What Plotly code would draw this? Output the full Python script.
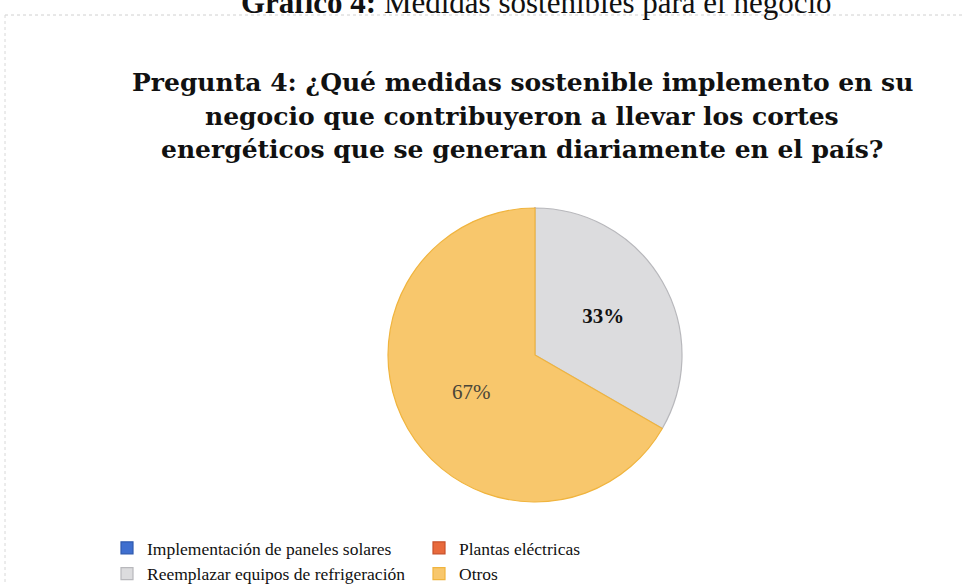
import plotly.graph_objects as go

categories = ["Implementación de paneles solares", "Plantas eléctricas",
              "Reemplazar equipos de refrigeración", "Otros"]
values = [0, 0, 33.33, 66.67]
colors = ["#3F6FCF", "#E86A3C", "#DCDCDE", "#F8C76C"]
line_colors = ["#2F5AAF", "#C8502A", "#B8B8BC", "#F0B43E"]
label_templates = ["", "", "<b>%{percent:.0%}</b>", "%{percent:.0%}"]
label_colors = ["#000000", "#000000", "#111111", "#4A4538"]

title_lines = ["Pregunta 4: ¿Qué medidas sostenible implemento en su",
               "negocio que contribuyeron a llevar los cortes",
               "energéticos que se generan diariamente en el país?"]
top_caption = "<b>Gráfico 4:</b> Medidas sostenibles para el negocio"

W, H = 970, 584
ML, MR = 100, 170
PW = W - ML - MR

def px_x(x):
    return (x - ML) / PW

def px_y(y):
    return 1 - y / H

fig = go.Figure(go.Pie(
    labels=categories,
    values=values,
    sort=False,
    direction="clockwise",
    rotation=0,
    marker=dict(colors=colors, line=dict(color=line_colors, width=1.2)),
    texttemplate=label_templates,
    textposition="inside",
    insidetextorientation="horizontal",
    textfont=dict(family="Liberation Serif", size=21, color=label_colors),
    domain=dict(x=[px_x(388), px_x(682)], y=[px_y(502), px_y(208)]),
    hoverinfo="label+percent",
))

annotations = []
for i, line in enumerate(title_lines):
    annotations.append(dict(
        text=f"<b>{line}</b>", x=px_x(522), y=px_y(83 + 33 * i),
        xref="paper", yref="paper", showarrow=False,
        xanchor="center", yanchor="middle",
        font=dict(family="DejaVu Serif", size=25, color="#111111")))
annotations.append(dict(
    text=top_caption, x=px_x(536), y=px_y(3),
    xref="paper", yref="paper", showarrow=False,
    xanchor="center", yanchor="middle",
    font=dict(family="Liberation Serif", size=31, color="#111111")))

shapes = [
    dict(type="line", xref="paper", yref="paper",
         x0=px_x(5), x1=px_x(965), y0=px_y(15), y1=px_y(15),
         line=dict(color="#D0D0D0", width=1, dash="dot")),
    dict(type="line", xref="paper", yref="paper",
         x0=px_x(5), x1=px_x(5), y0=px_y(15), y1=px_y(584),
         line=dict(color="#D8D8D8", width=1, dash="dot")),
]

fig.update_layout(
    width=W, height=H,
    margin=dict(l=ML, r=MR, t=0, b=0, autoexpand=False),
    paper_bgcolor="white",
    plot_bgcolor="white",
    showlegend=True,
    legend=dict(
        orientation="h", x=px_x(107), y=px_y(530),
        xanchor="left", yanchor="top",
        entrywidth=267, entrywidthmode="pixels",
        font=dict(family="Liberation Serif", size=17.5, color="#111111"),
        itemwidth=30, traceorder="normal",
        bgcolor="rgba(0,0,0,0)",
    ),
    annotations=annotations,
    shapes=shapes,
)

fig.write_html("out.html",
               config={"displayModeBar": False},
               post_script="document.body.style.margin='0';document.body.style.padding='0';")
